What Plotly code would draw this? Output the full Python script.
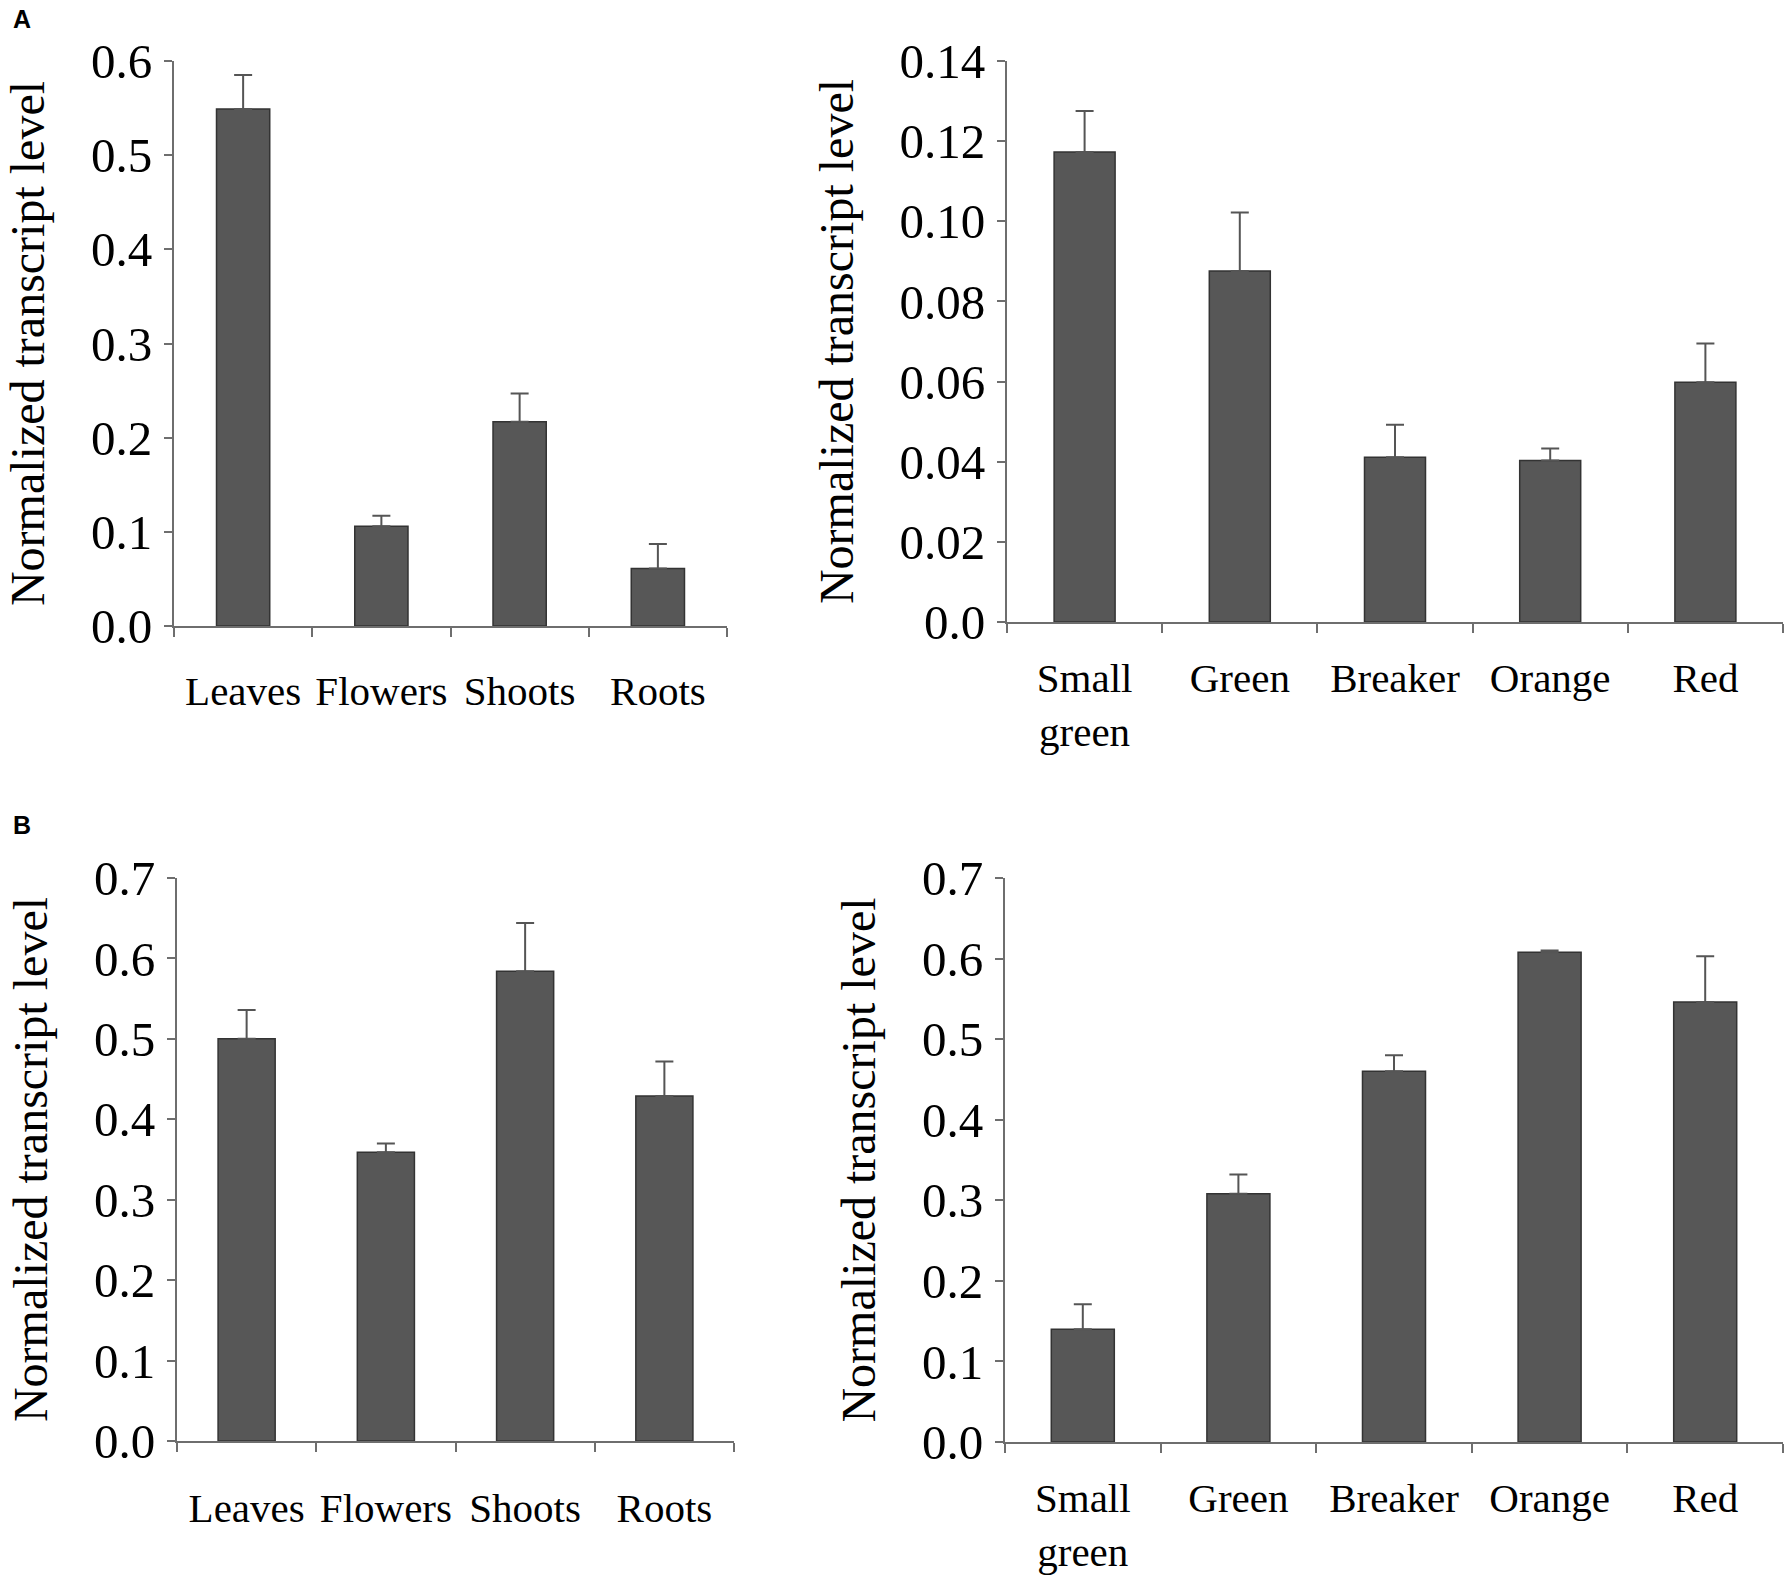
import plotly.graph_objects as go

# ---------------- data ----------------
tissues = ["Leaves", "Flowers", "Shoots", "Roots"]
stages = ["Small<br>green", "Green", "Breaker", "Orange", "Red"]

a_tissue_vals = [0.549, 0.106, 0.217, 0.061]
a_tissue_err = [0.036, 0.011, 0.030, 0.026]

a_stage_vals = [0.1173, 0.0876, 0.0411, 0.0403, 0.0598]
a_stage_err = [0.0102, 0.0146, 0.0081, 0.0030, 0.0097]

b_tissue_vals = [0.500, 0.359, 0.584, 0.429]
b_tissue_err = [0.036, 0.011, 0.060, 0.043]

b_stage_vals = [0.140, 0.308, 0.460, 0.608, 0.546]
b_stage_err = [0.031, 0.024, 0.020, 0.002, 0.057]

a_tissue_ticks = [0.0, 0.1, 0.2, 0.3, 0.4, 0.5, 0.6]
a_tissue_ticktext = ["0.0", "0.1", "0.2", "0.3", "0.4", "0.5", "0.6"]
a_stage_ticks = [0.0, 0.02, 0.04, 0.06, 0.08, 0.10, 0.12, 0.14]
a_stage_ticktext = ["0.0", "0.02", "0.04", "0.06", "0.08", "0.10", "0.12", "0.14"]
b_ticks = [0.0, 0.1, 0.2, 0.3, 0.4, 0.5, 0.6, 0.7]
b_ticktext = ["0.0", "0.1", "0.2", "0.3", "0.4", "0.5", "0.6", "0.7"]

y_title = "Normalized transcript level"

# ---------------- style ----------------
W, H = 1791, 1575
SERIF = "Liberation Serif, Times New Roman, serif"
BAR_FILL = "#575757"
BAR_LINE = "#333333"
AXIS_COL = "#6e6e6e"


def px_x(p):
    return p / W


def px_y(p):
    return 1 - p / H


panels = [
    # (xaxis id, yaxis id, cats, vals, errs, yrange, ticks, ticktext, xdom px, ydom px, barwidth, xlabel standoff)
    ("x", "y", tissues, a_tissue_vals, a_tissue_err, [0, 0.6], a_tissue_ticks, a_tissue_ticktext,
     (174, 727), (61, 626), 0.385, 28),
    ("x2", "y2", stages, a_stage_vals, a_stage_err, [0, 0.14], a_stage_ticks, a_stage_ticktext,
     (1007, 1783), (61, 622), 0.393, 19),
    ("x3", "y3", tissues, b_tissue_vals, b_tissue_err, [0, 0.7], b_ticks, b_ticktext,
     (177, 734), (878, 1441), 0.41, 30),
    ("x4", "y4", stages, b_stage_vals, b_stage_err, [0, 0.7], b_ticks, b_ticktext,
     (1005, 1783), (878, 1442), 0.405, 19),
]

fig = go.Figure()
layout = dict(
    width=W, height=H,
    margin=dict(l=0, r=0, t=0, b=0, autoexpand=False),
    paper_bgcolor="white", plot_bgcolor="white",
    showlegend=False,
    font=dict(family=SERIF, color="black"),
)

for i, (xa, ya, cats, vals, errs, yr, tv, tt, xd, yd, bw, xso) in enumerate(panels):
    fig.add_trace(go.Bar(
        x=cats, y=vals, xaxis=xa, yaxis=ya,
        width=[bw] * len(cats),
        marker=dict(color=BAR_FILL, line=dict(color=BAR_LINE, width=1.5)),
        error_y=dict(type="data", array=errs, arrayminus=[0] * len(errs),
                     symmetric=False, color="#555555", thickness=2, width=9),
    ))
    suffix = "" if i == 0 else str(i + 1)
    layout["xaxis" + suffix] = dict(
        domain=[px_x(xd[0]), px_x(xd[1])],
        anchor=ya, automargin=False,
        showline=True, linecolor=AXIS_COL, linewidth=2,
        ticks="outside", tickson="boundaries", ticklen=9, tickwidth=2, tickcolor=AXIS_COL,
        tickfont=dict(family=SERIF, size=41, color="black"),
        tickangle=0,
        ticklabelstandoff=xso,
        showgrid=False, zeroline=False, fixedrange=True,
    )
    layout["yaxis" + suffix] = dict(
        domain=[px_y(yd[1]), px_y(yd[0])],
        anchor=xa, automargin=False,
        range=yr,
        tickmode="array", tickvals=tv, ticktext=tt,
        showline=True, linecolor=AXIS_COL, linewidth=2,
        ticks="outside", ticklen=8, tickwidth=2, tickcolor=AXIS_COL,
        tickfont=dict(family=SERIF, size=49, color="black"),
        ticklabelstandoff=2,
        title=dict(text=y_title, font=dict(family=SERIF, size=48, color="black"), standoff=31),
        showgrid=False, zeroline=False, fixedrange=True,
    )

fig.update_layout(**layout)

fig.add_annotation(text="<b>A</b>", x=px_x(22), y=px_y(19), xref="paper", yref="paper",
                   xanchor="center", yanchor="middle", showarrow=False,
                   font=dict(family="Liberation Sans, Arial, sans-serif", size=25, color="black"))
fig.add_annotation(text="<b>B</b>", x=px_x(22), y=px_y(825), xref="paper", yref="paper",
                   xanchor="center", yanchor="middle", showarrow=False,
                   font=dict(family="Liberation Sans, Arial, sans-serif", size=25, color="black"))

fig.write_html("out.html", config={"displayModeBar": False},
               post_script="document.body.style.margin='0';")
